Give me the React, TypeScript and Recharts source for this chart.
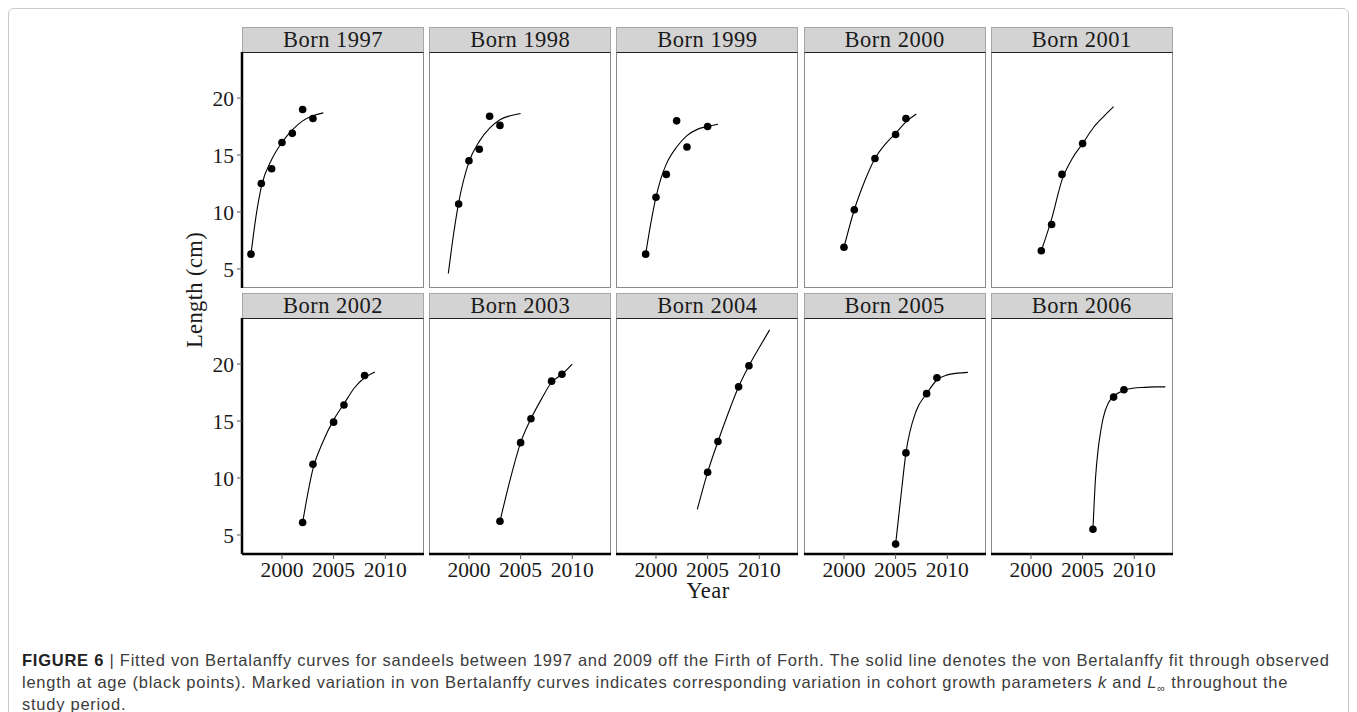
import React from 'react';
import { ComposedChart, Line, Scatter, XAxis, YAxis } from 'recharts';

// cohort labels, one panel each
const cohorts = [1997, 1998, 1999, 2000, 2001, 2002, 2003, 2004, 2005, 2006];

// observed length at age (cm)
const obs1997 = [
  { year: 1997, len: 6.3 }, { year: 1998, len: 12.5 }, { year: 1999, len: 13.8 },
  { year: 2000, len: 16.1 }, { year: 2001, len: 16.9 }, { year: 2002, len: 19.0 }, { year: 2003, len: 18.2 },
];
const obs1998 = [
  { year: 1999, len: 10.7 }, { year: 2000, len: 14.5 }, { year: 2001, len: 15.5 },
  { year: 2002, len: 18.4 }, { year: 2003, len: 17.6 },
];
const obs1999 = [
  { year: 1999, len: 6.3 }, { year: 2000, len: 11.3 }, { year: 2001, len: 13.3 },
  { year: 2002, len: 18.0 }, { year: 2003, len: 15.7 }, { year: 2005, len: 17.5 },
];
const obs2000 = [
  { year: 2000, len: 6.9 }, { year: 2001, len: 10.2 }, { year: 2003, len: 14.7 },
  { year: 2005, len: 16.8 }, { year: 2006, len: 18.2 },
];
const obs2001 = [
  { year: 2001, len: 6.6 }, { year: 2002, len: 8.9 }, { year: 2003, len: 13.3 }, { year: 2005, len: 16.0 },
];
const obs2002 = [
  { year: 2002, len: 6.1 }, { year: 2003, len: 11.2 }, { year: 2005, len: 14.9 },
  { year: 2006, len: 16.4 }, { year: 2008, len: 19.0 },
];
const obs2003 = [
  { year: 2003, len: 6.2 }, { year: 2005, len: 13.1 }, { year: 2006, len: 15.2 },
  { year: 2008, len: 18.5 }, { year: 2009, len: 19.1 },
];
const obs2004 = [
  { year: 2005, len: 10.5 }, { year: 2006, len: 13.2 }, { year: 2008, len: 18.0 }, { year: 2009, len: 19.85 },
];
const obs2005 = [
  { year: 2005, len: 4.2 }, { year: 2006, len: 12.2 }, { year: 2008, len: 17.4 }, { year: 2009, len: 18.8 },
];
const obs2006 = [
  { year: 2006, len: 5.5 }, { year: 2008, len: 17.1 }, { year: 2009, len: 17.75 },
];

// fitted von Bertalanffy curves
const fit1997 = [
  { year: 1997, len: 6.3 }, { year: 1997.5, len: 9.7 }, { year: 1998, len: 12.2 }, { year: 1999, len: 14.6 },
  { year: 2000, len: 16.1 }, { year: 2001, len: 17.2 }, { year: 2002, len: 18.0 }, { year: 2003, len: 18.45 },
  { year: 2004, len: 18.7 },
];
const fit1998 = [
  { year: 1998, len: 4.6 }, { year: 1998.5, len: 8.0 }, { year: 1999, len: 10.8 }, { year: 2000, len: 14.4 },
  { year: 2001, len: 16.2 }, { year: 2002, len: 17.35 }, { year: 2003, len: 18.1 }, { year: 2004, len: 18.45 },
  { year: 2005, len: 18.65 },
];
const fit1999 = [
  { year: 1999, len: 6.3 }, { year: 1999.5, len: 9.0 }, { year: 2000, len: 11.3 }, { year: 2000.5, len: 13.0 },
  { year: 2001, len: 14.2 }, { year: 2002, len: 15.7 }, { year: 2003, len: 16.7 }, { year: 2004, len: 17.25 },
  { year: 2005, len: 17.5 }, { year: 2006, len: 17.7 },
];
const fit2000 = [
  { year: 2000, len: 6.9 }, { year: 2001, len: 10.2 }, { year: 2002, len: 12.7 }, { year: 2003, len: 14.7 },
  { year: 2004, len: 15.95 }, { year: 2005, len: 16.9 }, { year: 2006, len: 17.9 }, { year: 2007, len: 18.6 },
];
const fit2001 = [
  { year: 2001, len: 6.6 }, { year: 2002, len: 9.4 }, { year: 2003, len: 12.8 }, { year: 2004, len: 14.7 },
  { year: 2005, len: 16.0 }, { year: 2006, len: 17.35 }, { year: 2007, len: 18.35 }, { year: 2008, len: 19.25 },
];
const fit2002 = [
  { year: 2002, len: 6.1 }, { year: 2003, len: 10.8 }, { year: 2004, len: 13.25 }, { year: 2005, len: 15.1 },
  { year: 2006, len: 16.5 }, { year: 2007, len: 17.9 }, { year: 2008, len: 18.8 }, { year: 2009, len: 19.3 },
];
const fit2003 = [
  { year: 2003, len: 6.2 }, { year: 2004, len: 9.9 }, { year: 2005, len: 13.1 }, { year: 2006, len: 15.2 },
  { year: 2007, len: 16.9 }, { year: 2008, len: 18.4 }, { year: 2009, len: 19.1 }, { year: 2010, len: 20.0 },
];
const fit2004 = [
  { year: 2004, len: 7.25 }, { year: 2005, len: 10.5 }, { year: 2006, len: 13.2 }, { year: 2007, len: 15.7 },
  { year: 2008, len: 18.0 }, { year: 2009, len: 19.85 }, { year: 2010, len: 21.45 }, { year: 2011, len: 23.0 },
];
const fit2005 = [
  { year: 2005, len: 4.2 }, { year: 2005.5, len: 8.3 }, { year: 2006, len: 12.2 }, { year: 2007, len: 15.9 },
  { year: 2008, len: 17.4 }, { year: 2009, len: 18.6 }, { year: 2010, len: 19.05 }, { year: 2011, len: 19.2 },
  { year: 2012, len: 19.27 },
];
const fit2006 = [
  { year: 2006, len: 5.5 }, { year: 2006.25, len: 10.0 }, { year: 2006.5, len: 12.5 }, { year: 2006.75, len: 14.1 },
  { year: 2007, len: 15.3 }, { year: 2007.5, len: 16.6 }, { year: 2008, len: 17.15 }, { year: 2009, len: 17.7 },
  { year: 2010, len: 17.9 }, { year: 2011, len: 17.95 }, { year: 2012, len: 18.0 }, { year: 2013, len: 18.0 },
];

const observed = [obs1997, obs1998, obs1999, obs2000, obs2001, obs2002, obs2003, obs2004, obs2005, obs2006];
const fitted = [fit1997, fit1998, fit1999, fit2000, fit2001, fit2002, fit2003, fit2004, fit2005, fit2006];

const xTicks = [2000, 2005, 2010];
const yTicks = [5, 10, 15, 20];

const SERIF = '"Liberation Serif", "Times New Roman", serif';
const SANS = '"Liberation Sans", Arial, sans-serif';
const OFF = 9; // body margin + box border
const PLOT_W = 182;
const PLOT_H = 236;
const Y_W = 50;
const X_H = 40;
const M_TOP = 5;

const Dot = (props: any) => <circle cx={props.cx} cy={props.cy} r={3.8} fill="#000" />;

const Panel = ({ idx }: { idx: number }) => {
  const col = idx % 5;
  const row = Math.floor(idx / 5);
  const left = 242 + col * 187.2 - OFF;
  const top = (row === 0 ? 52 : 318) - OFF;
  const firstCol = col === 0;
  const lastRow = row === 1;
  const tickStyle = { fontFamily: SERIF, fontSize: 21.5, fill: '#1a1a1a' };
  return (
    <>
      <div
        style={{
          position: 'absolute', left, top: top - 25, width: PLOT_W, height: 25, boxSizing: 'border-box',
          background: '#d3d3d3', border: '1px solid #a6a6a6', borderBottom: 'none',
          fontFamily: SERIF, fontSize: 22.5, lineHeight: '24px', textAlign: 'center', color: '#1a1a1a',
          letterSpacing: 0.5,
        }}
      >
        Born {cohorts[idx]}
      </div>
      <div
        style={{
          position: 'absolute', left, top, width: PLOT_W, height: PLOT_H, boxSizing: 'border-box',
          borderLeft: '1.5px solid #8a8a8a', borderRight: '1.5px solid #8a8a8a',
          borderBottom: '1.5px solid #8a8a8a', borderTop: '1.5px solid #222',
        }}
      />
      <div style={{ position: 'absolute', left: left - Y_W, top: top - M_TOP }}>
        <ComposedChart
          width={Y_W + PLOT_W + 5}
          height={M_TOP + PLOT_H + X_H}
          margin={{ top: M_TOP, right: 5, bottom: 0, left: 0 }}
        >
          <XAxis
            type="number"
            dataKey="year"
            domain={[1996.13, 2013.75]}
            ticks={xTicks}
            height={X_H}
            allowDataOverflow
            tick={lastRow ? tickStyle : false}
            tickLine={lastRow ? { stroke: '#555' } : false}
            axisLine={lastRow ? { stroke: '#000', strokeWidth: 2.5 } : false}
            tickSize={5}
            tickMargin={3}
          />
          <YAxis
            type="number"
            dataKey="len"
            domain={[3.33, 24.04]}
            ticks={yTicks}
            width={Y_W}
            allowDataOverflow
            tick={firstCol ? tickStyle : false}
            tickLine={firstCol ? { stroke: '#555' } : false}
            axisLine={firstCol ? { stroke: '#000', strokeWidth: 2.5 } : false}
            tickSize={5}
            tickMargin={3}
          />
          <Line
            data={fitted[idx]}
            dataKey="len"
            type="monotone"
            stroke="#000"
            strokeWidth={1.1}
            dot={false}
            isAnimationActive={false}
          />
          <Scatter data={observed[idx]} dataKey="len" fill="#000" shape={<Dot />} isAnimationActive={false} />
        </ComposedChart>
      </div>
    </>
  );
};

const App = () => {
  return (
    <div
      style={{
        position: 'relative', width: 1341, height: 720, boxSizing: 'border-box',
        border: '1px solid #c9c9c9', borderRadius: 6, background: '#fff', overflow: 'hidden',
      }}
    >
      {cohorts.map((c, i) => (
        <Panel key={c} idx={i} />
      ))}
      <div
        style={{
          position: 'absolute', left: 195 - OFF, top: 290 - OFF, transform: 'translate(-50%, -50%) rotate(-90deg)',
          fontFamily: SERIF, fontSize: 22.5, color: '#1a1a1a', whiteSpace: 'nowrap', letterSpacing: 0.4,
        }}
      >
        Length (cm)
      </div>
      <div
        style={{
          position: 'absolute', left: 708 - OFF, top: 591 - OFF, transform: 'translate(-50%, -50%)',
          fontFamily: SERIF, fontSize: 22.5, lineHeight: '20px', color: '#1a1a1a', whiteSpace: 'nowrap',
          letterSpacing: 0.4,
        }}
      >
        Year
      </div>
      <div
        style={{
          position: 'absolute', left: 22 - OFF, top: 649 - OFF, fontFamily: SANS,
          fontSize: 16.5, lineHeight: '22px', color: '#3c3c3c', whiteSpace: 'nowrap', letterSpacing: 0.75,
        }}
      >
        <div style={{ height: 22 }}>
          <b style={{ color: '#222' }}>FIGURE 6</b> | Fitted von Bertalanffy curves for sandeels between 1997 and 2009 off the Firth of Forth. The solid line denotes the von Bertalanffy fit through observed
        </div>
        <div style={{ height: 22 }}>
          length at age (black points). Marked variation in von Bertalanffy curves indicates corresponding variation in cohort growth parameters <i>k</i> and <i>L</i>
          <span style={{ fontSize: 11, position: 'relative', top: 4 }}>∞</span> throughout the
        </div>
        <div style={{ height: 22 }}>study period.</div>
      </div>
    </div>
  );
};

export default App;
